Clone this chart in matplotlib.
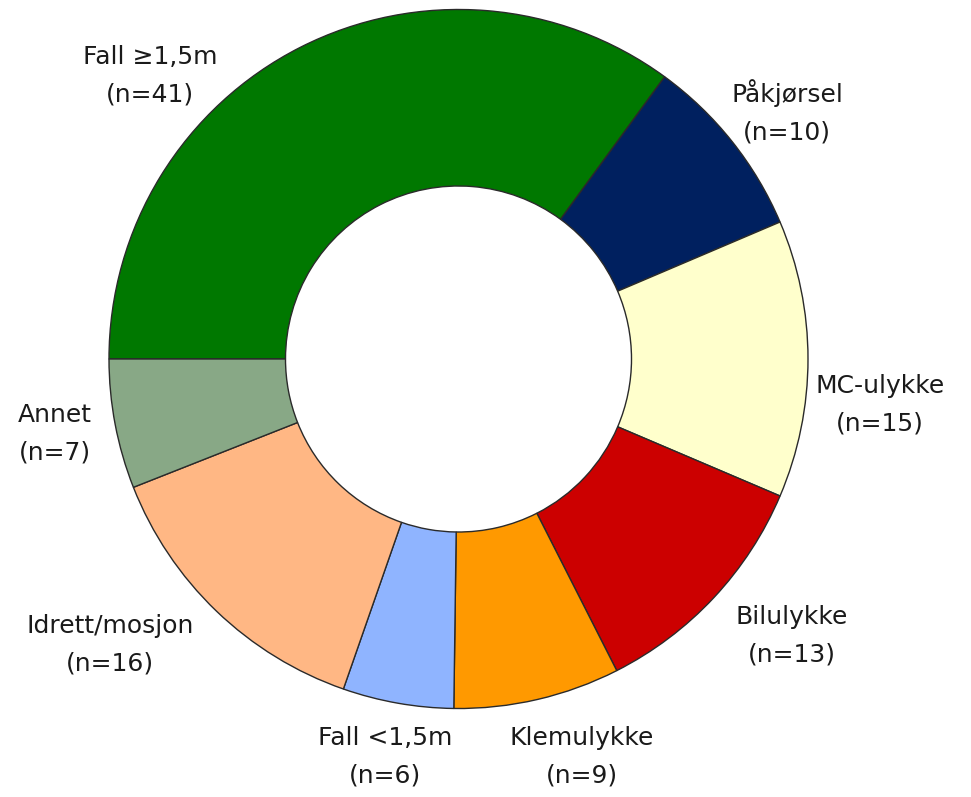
import numpy as np
import matplotlib
matplotlib.use("Agg")
import matplotlib.pyplot as plt

# Skademekanisme (n)
labels = ['Fall \u22651,5m', 'P\u00e5kj\u00f8rsel', 'MC-ulykke', 'Bilulykke',
          'Klemulykke', 'Fall <1,5m', 'Idrett/mosjon', 'Annet']
counts = [41, 10, 15, 13, 9, 6, 16, 7]
colors = ['#007800', '#00205f', '#ffffcc', '#cc0000',
          '#ff9900', '#8fb4ff', '#ffb784', '#88a886']

# label centres in pixels of the original picture (layout only)
lab_px = [(150, 76), (787, 112), (880, 405), (792, 636),
          (582, 757), (385, 757), (110, 645), (55, 434)]

W, H = 971, 797
cx, cy, R = 458.5, 359.0, 349.5   # pie centre / radius in px

fig = plt.figure(figsize=(W/100, H/100), dpi=100)
ax = fig.add_axes([0, 0, 1, 1])

ax.pie(counts, colors=colors, startangle=180, counterclock=False, radius=1,
       wedgeprops=dict(width=0.505, edgecolor='#2a2a2a', linewidth=1.0))

for lab, n, (px, py) in zip(labels, counts, lab_px):
    ax.text((px - cx)/R, (cy - py)/R, lab + '\n(n=' + str(n) + ')',
            ha='center', va='center', fontsize=18, color='#1a1a1a',
            linespacing=1.7, family=['DejaVu Sans'])

ax.set_aspect('auto')
ax.set_xlim(-cx/R, (W - cx)/R)
ax.set_ylim(-(H - cy)/R, cy/R)
ax.axis('off')

fig.savefig('out.png', dpi=100, facecolor='white')
